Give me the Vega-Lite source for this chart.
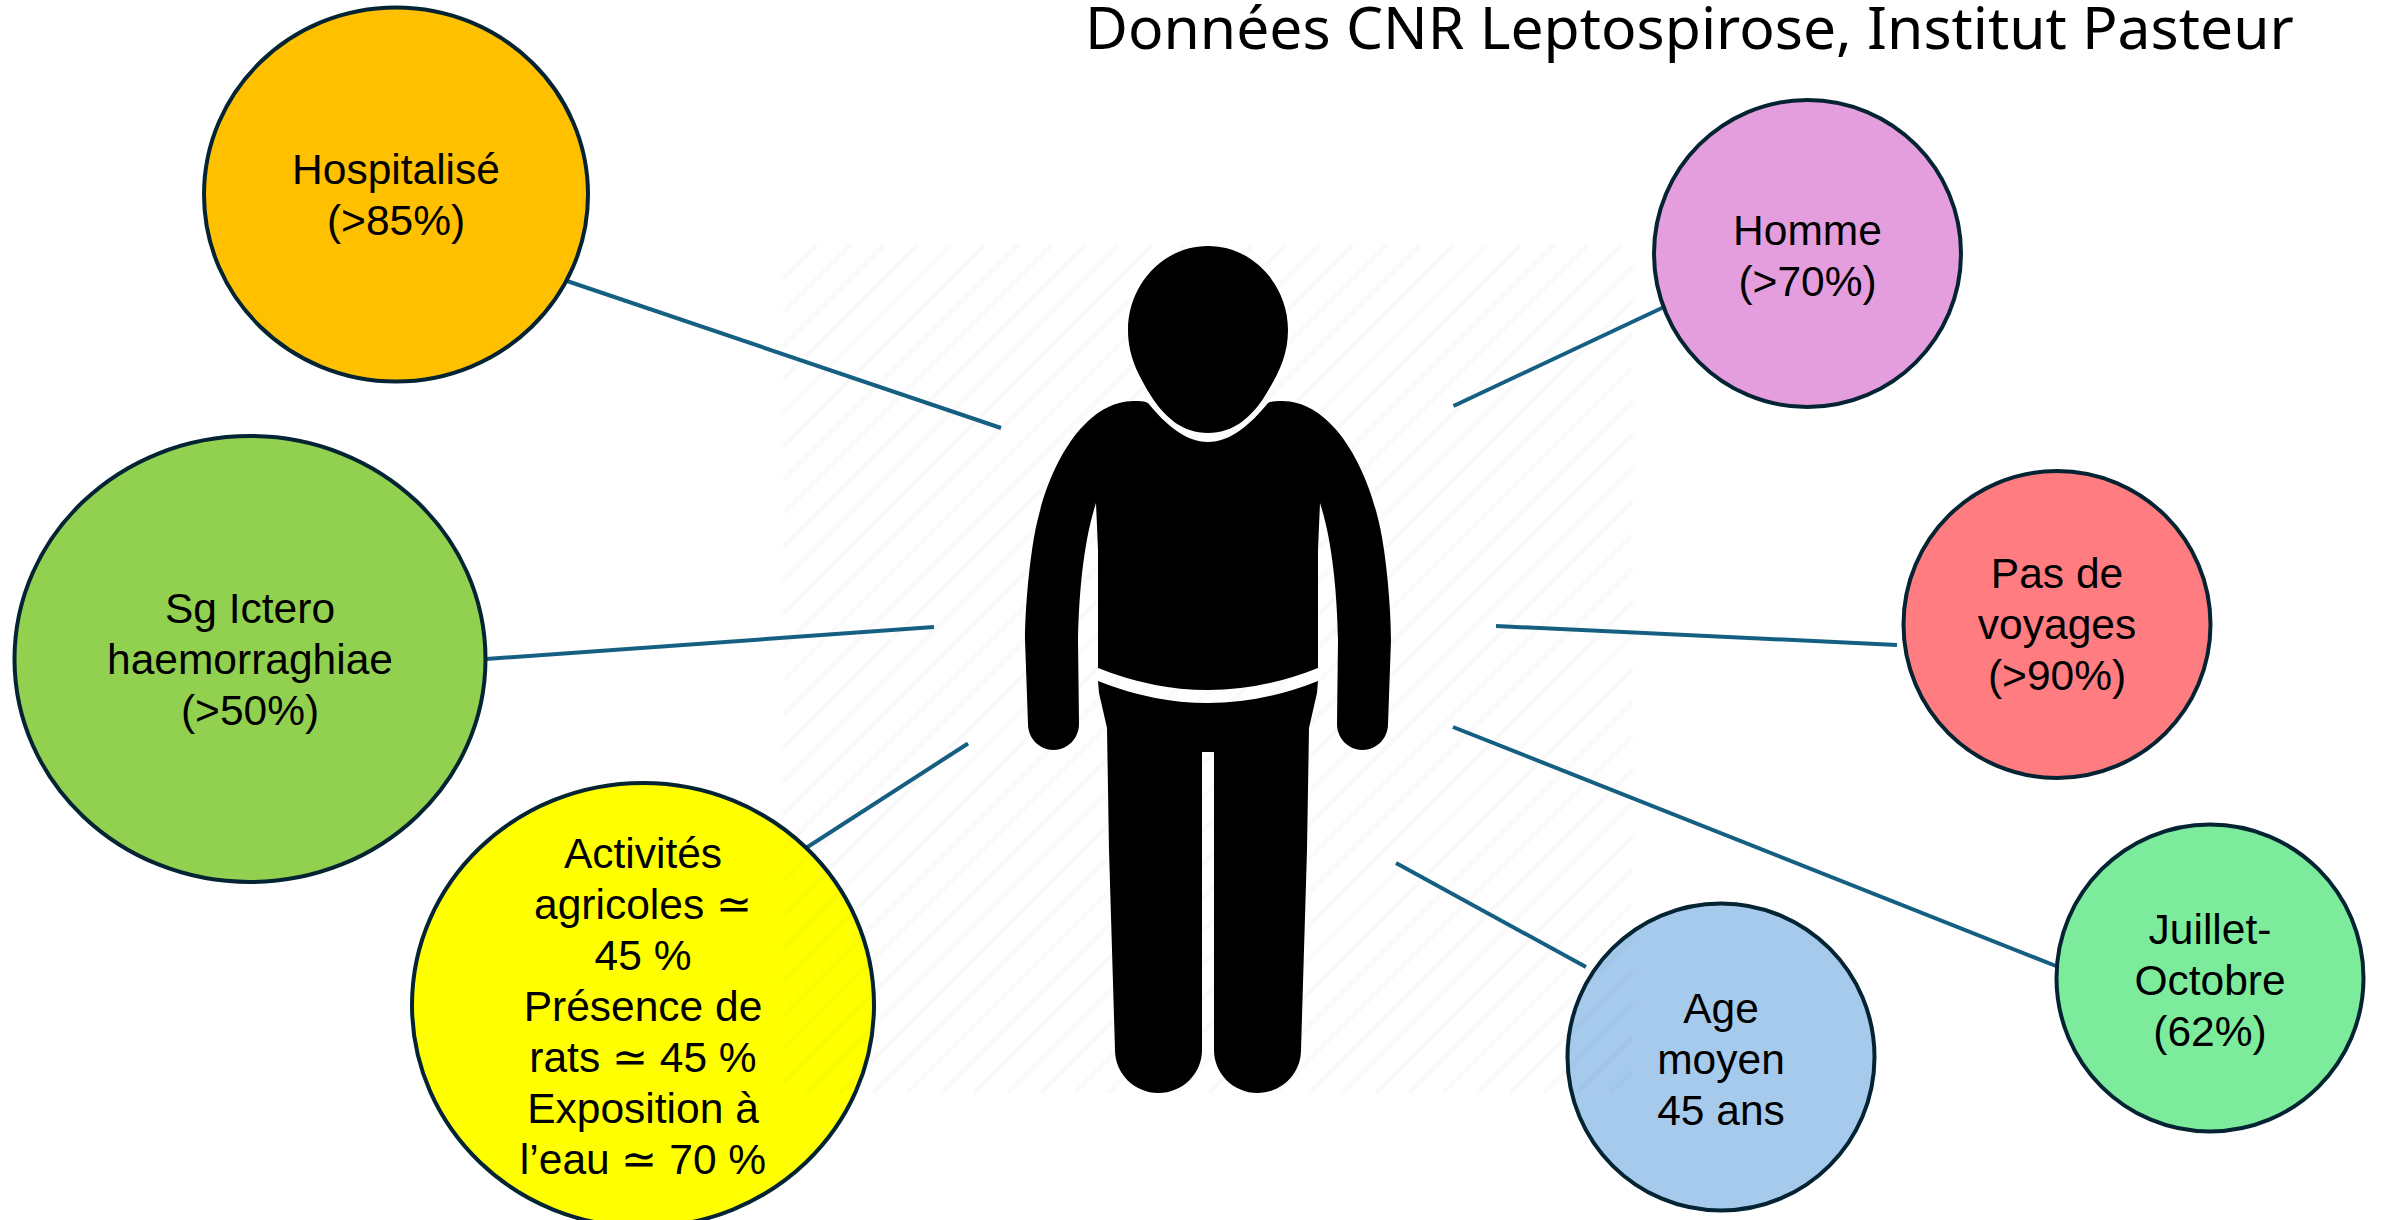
{"$schema":"https://vega.github.io/schema/vega-lite/v6.json","width":2382,"height":1220,"padding":0,"autosize":{"type":"none"},"background":"white","view":{"stroke":null},
"datasets":{
"bubbles":[
{"name":"Hospitalisé","cx":396,"cy":194.5,"ty":171,"label":"Hospitalisé\n(>85%)"},
{"name":"Sérogroupe","cx":250,"cy":659,"ty":610,"label":"Sg Ictero\nhaemorraghiae\n(>50%)"},
{"name":"Activités","cx":643,"cy":1005,"ty":855,"label":"Activités\nagricoles ≃\n45 %\nPrésence de\nrats ≃ 45 %\nExposition à\nl’eau ≃ 70 %"},
{"name":"Homme","cx":1807.5,"cy":253.5,"ty":232,"label":"Homme\n(>70%)"},
{"name":"Voyages","cx":2057,"cy":624.5,"ty":575,"label":"Pas de\nvoyages\n(>90%)"},
{"name":"Saison","cx":2210,"cy":978,"ty":931,"label":"Juillet-\nOctobre\n(62%)"},
{"name":"Age","cx":1721,"cy":1057,"ty":1010,"label":"Age\nmoyen\n45 ans"}],
"links":[
{"x":567,"y":281,"x2":1001,"y2":428},
{"x":486,"y":659,"x2":934,"y2":627},
{"x":806,"y":848,"x2":968,"y2":743.5},
{"x":1453.5,"y":406,"x2":1664,"y2":307},
{"x":1496,"y":626,"x2":1897,"y2":645},
{"x":1453,"y":727,"x2":2056,"y2":966},
{"x":1396,"y":863,"x2":1586,"y2":967}],
"hatch":[
{"x":783,"y":279,"x2":817,"y2":245},{"x":783,"y":312.5,"x2":850.5,"y2":245},{"x":783,"y":346,"x2":884,"y2":245},{"x":783,"y":379.5,"x2":917.5,"y2":245},{"x":783,"y":413,"x2":951,"y2":245},{"x":783,"y":446.5,"x2":984.5,"y2":245},{"x":783,"y":480,"x2":1018,"y2":245},{"x":783,"y":513.5,"x2":1051.5,"y2":245},{"x":783,"y":547,"x2":1085,"y2":245},{"x":783,"y":580.5,"x2":1118.5,"y2":245},{"x":783,"y":614,"x2":1152,"y2":245},{"x":783,"y":647.5,"x2":1185.5,"y2":245},{"x":783,"y":681,"x2":1219,"y2":245},{"x":783,"y":714.5,"x2":1252.5,"y2":245},{"x":783,"y":748,"x2":1286,"y2":245},{"x":783,"y":781.5,"x2":1319.5,"y2":245},{"x":783,"y":815,"x2":1353,"y2":245},{"x":783,"y":848.5,"x2":1386.5,"y2":245},{"x":783,"y":882,"x2":1420,"y2":245},{"x":783,"y":915.5,"x2":1453.5,"y2":245},{"x":783,"y":949,"x2":1487,"y2":245},{"x":783,"y":982.5,"x2":1520.5,"y2":245},{"x":783,"y":1016,"x2":1554,"y2":245},{"x":783,"y":1049.5,"x2":1587.5,"y2":245},{"x":783,"y":1083,"x2":1621,"y2":245},
{"x":806.5,"y":1093,"x2":1633,"y2":266.5},{"x":840,"y":1093,"x2":1633,"y2":300},{"x":873.5,"y":1093,"x2":1633,"y2":333.5},{"x":907,"y":1093,"x2":1633,"y2":367},{"x":940.5,"y":1093,"x2":1633,"y2":400.5},{"x":974,"y":1093,"x2":1633,"y2":434},{"x":1007.5,"y":1093,"x2":1633,"y2":467.5},{"x":1041,"y":1093,"x2":1633,"y2":501},{"x":1074.5,"y":1093,"x2":1633,"y2":534.5},{"x":1108,"y":1093,"x2":1633,"y2":568},{"x":1141.5,"y":1093,"x2":1633,"y2":601.5},{"x":1175,"y":1093,"x2":1633,"y2":635},{"x":1208.5,"y":1093,"x2":1633,"y2":668.5},{"x":1242,"y":1093,"x2":1633,"y2":702},{"x":1275.5,"y":1093,"x2":1633,"y2":735.5},{"x":1309,"y":1093,"x2":1633,"y2":769},{"x":1342.5,"y":1093,"x2":1633,"y2":802.5},{"x":1376,"y":1093,"x2":1633,"y2":836},{"x":1409.5,"y":1093,"x2":1633,"y2":869.5},{"x":1443,"y":1093,"x2":1633,"y2":903},{"x":1476.5,"y":1093,"x2":1633,"y2":936.5},{"x":1510,"y":1093,"x2":1633,"y2":970},{"x":1543.5,"y":1093,"x2":1633,"y2":1003.5},{"x":1577,"y":1093,"x2":1633,"y2":1037},{"x":1610.5,"y":1093,"x2":1633,"y2":1070.5}]
},
"layer":[
{"data":{"name":"links"},"mark":{"type":"rule","stroke":"#156082","strokeWidth":4},
"encoding":{"x":{"field":"x","type":"quantitative","axis":null,"scale":{"domain":[0,2382],"nice":false}},"y":{"field":"y","type":"quantitative","axis":null,"scale":{"domain":[1220,0],"nice":false}},"x2":{"field":"x2"},"y2":{"field":"y2"}}},
{"data":{"name":"bubbles"},"mark":{"type":"point","filled":true,"size":4,"opacity":1,"stroke":"#042433","strokeWidth":4},
"encoding":{"x":{"field":"cx","type":"quantitative","axis":null,"scale":{"domain":[0,2382],"nice":false}},"y":{"field":"cy","type":"quantitative","axis":null,"scale":{"domain":[1220,0],"nice":false}},
"fill":{"field":"name","type":"nominal","legend":null,"scale":{"domain":["Hospitalisé","Sérogroupe","Activités","Homme","Voyages","Saison","Age"],"range":["#FFC000","#92D050","#FFFF00","#E49EDD","#FF7C80","#7CEC9C","#A6CAEC"]}},
"shape":{"field":"name","type":"nominal","legend":null,"scale":{"domain":["Hospitalisé","Sérogroupe","Activités","Homme","Voyages","Saison","Age"],"range":["M-192 0A192 187 0 1 1 192 0A192 187 0 1 1 -192 0Z","M-235.5 0A235.5 223 0 1 1 235.5 0A235.5 223 0 1 1 -235.5 0Z","M-231 0A231 222 0 1 1 231 0A231 222 0 1 1 -231 0Z","M-153.5 0A153.5 153.5 0 1 1 153.5 0A153.5 153.5 0 1 1 -153.5 0Z","M-153.5 0A153.5 153.5 0 1 1 153.5 0A153.5 153.5 0 1 1 -153.5 0Z","M-153.5 0A153.5 153.5 0 1 1 153.5 0A153.5 153.5 0 1 1 -153.5 0Z","M-153.5 0A153.5 153.5 0 1 1 153.5 0A153.5 153.5 0 1 1 -153.5 0Z"]}}}},
{"data":{"name":"hatch"},"mark":{"type":"rule","stroke":"#000000","strokeOpacity":0.018,"strokeWidth":5},
"encoding":{"x":{"field":"x","type":"quantitative","axis":null,"scale":{"domain":[0,2382],"nice":false}},"y":{"field":"y","type":"quantitative","axis":null,"scale":{"domain":[1220,0],"nice":false}},"x2":{"field":"x2"},"y2":{"field":"y2"}}},
{"data":{"values":[{"figure":"Patient","px":1208,"py":670}]},"mark":{"type":"point","filled":true,"size":4,"opacity":1,"fill":"#000000","strokeWidth":0,
"shape":"M0 -424C45 -424 80 -385 80 -340C80 -312 68 -292 55 -271C42 -252 25 -237 0 -237C-25 -237 -42 -252 -55 -271C-68 -292 -80 -312 -80 -340C-80 -385 -45 -424 0 -424Z M-60 -267C-42 -245 -22 -228 0 -228C22 -228 42 -245 60 -267C64 -269 68 -269 74 -269C125 -269 165 -200 176 -120C181 -85 183 -50 183 -30L180 54A25.5 26 0 0 1 129 54L130 -30C129 -80 124 -130 112 -167L110 -120L110 -2Q0 42 -110 -2L-110 -120L-112 -167C-124 -130 -129 -80 -130 -30L-129 54A25.5 26 0 0 1 -180 54L-183 -30C-183 -50 -181 -85 -176 -120C-165 -200 -125 -269 -74 -269C-68 -269 -64 -269 -60 -267Z M-110 11Q0 55 110 11L109 23L101 58L99 180L93 380A43.5 43 0 0 1 6 380L6 82L-6 82L-6 380A43.5 43 0 0 1 -93 380L-99 180L-101 58L-109 23Z"},
"encoding":{"x":{"field":"px","type":"quantitative","axis":null,"scale":{"domain":[0,2382],"nice":false}},"y":{"field":"py","type":"quantitative","axis":null,"scale":{"domain":[1220,0],"nice":false}}}},
{"data":{"name":"bubbles"},"mark":{"type":"text","font":"Liberation Sans","fontSize":42.5,"lineHeight":51,"lineBreak":"\n","align":"center","baseline":"middle","fill":"#000000"},
"encoding":{"x":{"field":"cx","type":"quantitative","axis":null,"scale":{"domain":[0,2382],"nice":false}},"y":{"field":"ty","type":"quantitative","axis":null,"scale":{"domain":[1220,0],"nice":false}},"text":{"field":"label","type":"nominal"}}},
{"data":{"values":[{"title":"Données CNR Leptospirose, Institut Pasteur","tx":1085,"ty":49}]},"mark":{"type":"text","font":"Noto Sans","fontSize":58.8,"align":"left","baseline":"alphabetic","fill":"#000000"},
"encoding":{"x":{"field":"tx","type":"quantitative","axis":null,"scale":{"domain":[0,2382],"nice":false}},"y":{"field":"ty","type":"quantitative","axis":null,"scale":{"domain":[1220,0],"nice":false}},"text":{"field":"title","type":"nominal"}}}
]}
